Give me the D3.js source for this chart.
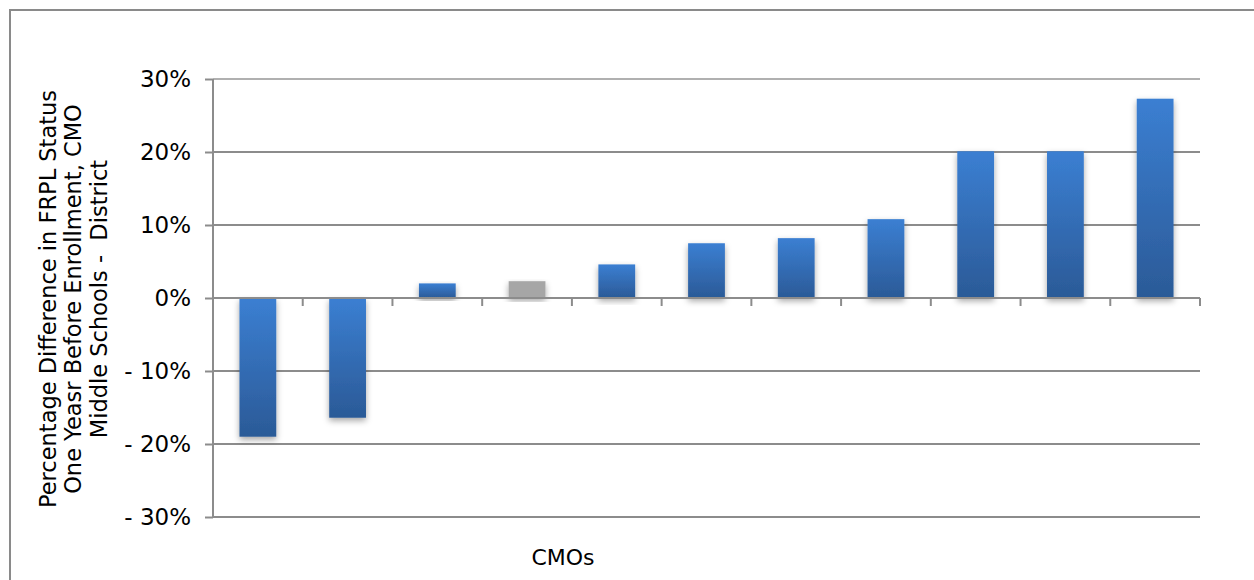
<!DOCTYPE html>
<html>
<head>
<meta charset="utf-8">
<script src="https://d3js.org/d3.v7.min.js"></script>
<style>
  body { margin: 0; background: #fff; }
  svg { display: block; font-family: "DejaVu Sans", sans-serif; }
</style>
</head>
<body>
<svg width="1254" height="580"></svg>
<script>
var cmos = ["c1", "c2", "c3", "c4", "c5", "c6", "c7", "c8", "c9", "c10", "c11"];
var diffs = [-19.0, -16.4, 2.0, 2.3, 4.6, 7.5, 8.2, 10.8, 20.1, 20.1, 27.3];
var highlight = [false, false, false, true, false, false, false, false, false, false, false];
var yTicks = [-30, -20, -10, 0, 10, 20, 30];
var titleLines = ["Percentage Difference in FRPL Status", "One Yeasr Before Enrollment, CMO", "Middle Schools -  District"];

var svg = d3.select("svg"),
    margin = {top: 79, left: 213, right: 54, bottom: 63},
    width = +svg.attr("width") - margin.left - margin.right,
    height = +svg.attr("height") - margin.top - margin.bottom;

var data = cmos.map(function(c, i) { return {name: c, value: diffs[i], grey: highlight[i]}; });

var x = d3.scaleBand().domain(cmos).range([0, width]).paddingInner(0.59).paddingOuter(0.295),
    xt = d3.scaleBand().domain(cmos).range([0, width]),
    y = d3.scaleLinear().domain([-30, 30]).range([height, 0]);

var defs = svg.append("defs");
var grad = defs.append("linearGradient").attr("id", "blue").attr("x1", 0).attr("y1", 0).attr("x2", 0).attr("y2", 1);
grad.append("stop").attr("offset", "0%").attr("stop-color", "#3b7fd2");
grad.append("stop").attr("offset", "100%").attr("stop-color", "#2b5a97");
var filt = defs.append("filter").attr("id", "shadow").attr("x", "-30%").attr("y", "-10%").attr("width", "160%").attr("height", "130%");
filt.append("feDropShadow").attr("dx", 0).attr("dy", 3).attr("stdDeviation", 3).attr("flood-color", "#000").attr("flood-opacity", 0.35);

// outer frame
svg.append("path")
    .attr("d", "M10,580 V10 H1254")
    .attr("fill", "none")
    .attr("stroke", "#8a8a8a")
    .attr("stroke-width", 2);

var g = svg.append("g").attr("transform", "translate(" + margin.left + "," + margin.top + ")");

// grid lines
g.selectAll(".grid")
    .data(yTicks.filter(function(d) { return d !== 0; }))
    .enter().append("line")
    .attr("x1", 0).attr("x2", width)
    .attr("y1", function(d) { return y(d); })
    .attr("y2", function(d) { return y(d); })
    .attr("stroke", function(d) { return d === 30 ? "#b0b0b0" : "#8c8c8c"; })
    .attr("stroke-width", 2);

// y axis
var yAxis = d3.axisLeft(y).tickValues(yTicks).tickSize(8).tickPadding(14)
    .tickFormat(function(d) { return d < 0 ? "- " + Math.abs(d) + "%" : d + "%"; });
var ya = g.append("g").call(yAxis);
ya.select(".domain").attr("stroke", "#8c8c8c").attr("stroke-width", 2).attr("d", "M0," + y(30) + "V" + y(-30));
ya.selectAll(".tick line").attr("stroke", "#8c8c8c").attr("stroke-width", 2);
ya.selectAll(".tick text").attr("fill", "#000").style("font-size", "23px").style("font-family", "DejaVu Sans, sans-serif");

// bars
g.selectAll(".bar")
    .data(data)
    .enter().append("rect")
    .attr("x", function(d) { return x(d.name); })
    .attr("width", x.bandwidth())
    .attr("y", function(d) { return y(Math.max(0, d.value)); })
    .attr("height", function(d) { return Math.abs(y(d.value) - y(0)); })
    .attr("fill", function(d) { return d.grey ? "#a6a6a6" : "url(#blue)"; })
    .attr("filter", "url(#shadow)");

// zero axis with category ticks
var xAxis = d3.axisBottom(xt).tickSize(0).tickFormat("");
var xa = g.append("g").attr("transform", "translate(0," + y(0) + ")").call(xAxis);
xa.select(".domain").attr("stroke", "#8c8c8c").attr("stroke-width", 2).attr("d", "M0,0H" + width);
g.selectAll(".ctick")
    .data(cmos.slice(1).concat(["end"]))
    .enter().append("line")
    .attr("x1", function(d, i) { return xt.step() * (i + 1); })
    .attr("x2", function(d, i) { return xt.step() * (i + 1); })
    .attr("y1", y(0)).attr("y2", y(0) + 8)
    .attr("stroke", "#8c8c8c").attr("stroke-width", 2);

// axis titles
svg.append("text")
    .attr("x", 563).attr("y", 565)
    .attr("text-anchor", "middle")
    .style("font-size", "22px")
    .text("CMOs");

var yt = svg.append("text")
    .attr("transform", "translate(73,299)rotate(-90)")
    .attr("text-anchor", "middle")
    .style("font-size", "22.5px")
    .style("white-space", "pre");
yt.selectAll("tspan")
    .data(titleLines)
    .enter().append("tspan")
    .attr("x", 0)
    .attr("y", function(d, i) { return (i - 1) * 25.5 + 8; })
    .text(function(d) { return d; });
</script>
</body>
</html>
